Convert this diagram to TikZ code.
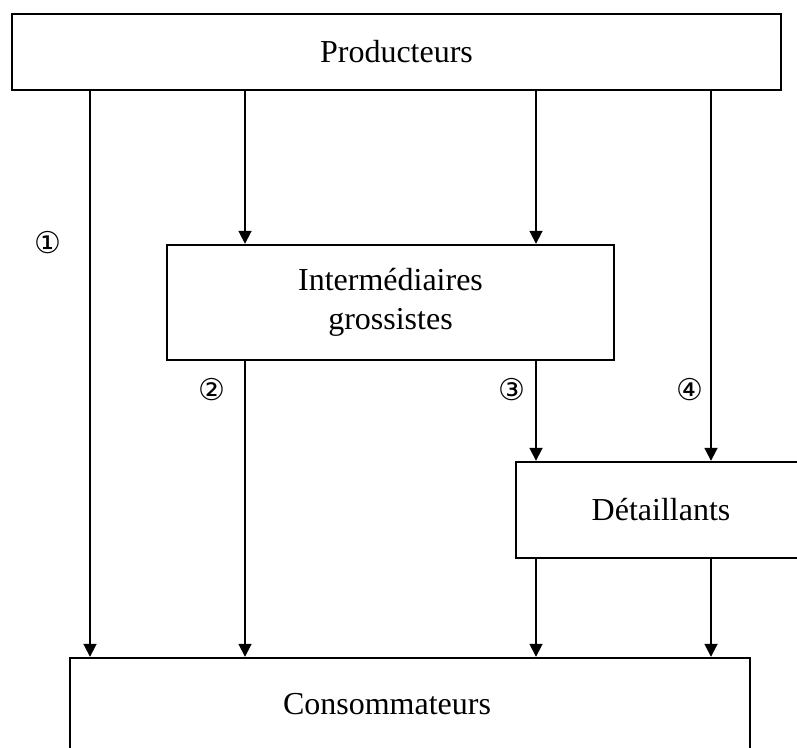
\documentclass[tikz,border=0pt]{standalone}
\usepackage{fontspec}
\setmainfont{Liberation Serif}
\newfontfamily\circfont{DejaVu Sans}
\usepackage{tikz}
\usetikzlibrary{arrows.meta}

\tikzset{
  box/.style={draw, line width=1.2pt, inner sep=0pt, font=\fontsize{16}{19.5}\selectfont, align=center},
  flow/.style={draw, line width=0.9pt, -{Triangle[width=6.5pt,length=6.5pt]}},
  num/.style={font=\circfont\fontsize{15}{15}\selectfont, inner sep=0pt}
}

\begin{document}
\begin{tikzpicture}[x=0.5pt,y=-0.5pt]
    \useasboundingbox (0,0) rectangle (797,748);

    % boites
    \node[box, minimum width=384.5pt, minimum height=38pt] (prod) at (396.5,52) {Producteurs};
    \node[box, minimum width=223.5pt, minimum height=57.5pt] (inter) at (390.5,302.5) {Intermédiaires\\grossistes};
    \node[box, minimum width=145pt, minimum height=48pt] (det) at (661,510) {Détaillants};
    \node[box, minimum width=340pt, minimum height=52pt,
          label={[font=\fontsize{16}{19.5}\selectfont, xshift=-11.5pt, yshift=3pt]center:Consommateurs}] (cons) at (410,710) {};

    % abscisses des fleches
    \coordinate (c1) at (90,0);
    \coordinate (c2) at (245,0);
    \coordinate (c3) at (536,0);
    \coordinate (c4) at (711,0);

    \draw[flow] (prod.south -| c1) -- (cons.north -| c1);
    \draw[flow] (prod.south -| c2) -- (inter.north -| c2);
    \draw[flow] (prod.south -| c3) -- (inter.north -| c3);
    \draw[flow] (prod.south -| c4) -- (det.north -| c4);
    \draw[flow] (inter.south -| c2) -- (cons.north -| c2);
    \draw[flow] (inter.south -| c3) -- (det.north -| c3);
    \draw[flow] (det.south -| c3) -- (cons.north -| c3);
    \draw[flow] (det.south -| c4) -- (cons.north -| c4);

    % numeros des circuits
    \node[num] (n1) at (48,243) {①};
    \node[num] (n2) at (212,390) {②};
    \node[num] (n3) at (512,390) {③};
    \node[num] (n4) at (690,390) {④};
\end{tikzpicture}
\end{document}
